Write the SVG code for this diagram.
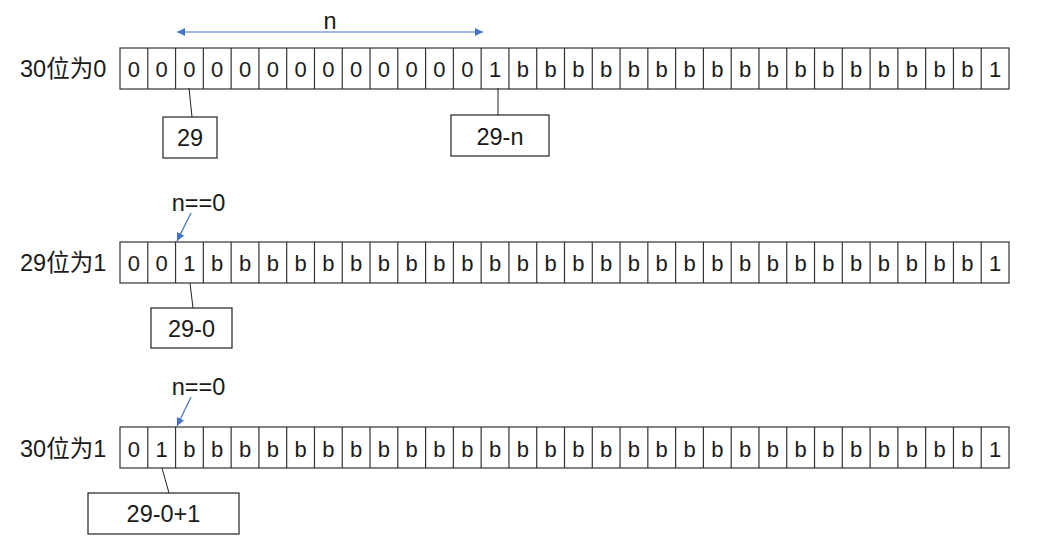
<svg xmlns="http://www.w3.org/2000/svg" xmlns:xlink="http://www.w3.org/1999/xlink" width="1039" height="550" viewBox="0 0 1039 550">
<style>
text{font-family:"Liberation Sans","Noto Sans CJK SC",sans-serif;font-size:22px;fill:#1a1a1a;}
.c{text-anchor:middle;}
.lbl{font-size:23.5px;}
.t{font-size:23.5px;}
.box{fill:#fff;stroke:#222;stroke-width:1.2;}
.grid{fill:none;stroke:#333;stroke-width:1.2;}
.lead{stroke:#222;stroke-width:1;fill:none;}
.blue{stroke:#4472C4;stroke-width:1.2;fill:none;}
</style>
<defs>
<marker id="ah" viewBox="0 0 10 10" refX="10" refY="5" markerWidth="8" markerHeight="8" markerUnits="userSpaceOnUse" orient="auto-start-reverse">
<path d="M0,0 L10,5 L0,10 z" fill="#4472C4"/>
</marker>
<g id="row">
<rect class="grid" x="120" y="0" width="889" height="41" fill="#fff"/>
<path class="grid" d="M147.78,0v41M175.56,0v41M203.34,0v41M231.13,0v41M258.91,0v41M286.69,0v41M314.47,0v41M342.25,0v41M370.03,0v41M397.81,0v41M425.59,0v41M453.38,0v41M481.16,0v41M508.94,0v41M536.72,0v41M564.5,0v41M592.28,0v41M620.06,0v41M647.84,0v41M675.63,0v41M703.41,0v41M731.19,0v41M758.97,0v41M786.75,0v41M814.53,0v41M842.31,0v41M870.09,0v41M897.88,0v41M925.66,0v41M953.44,0v41M981.22,0v41"/>
</g>
</defs>
<rect width="1039" height="550" fill="#fff"/>

<g id="row1">
<use xlink:href="#row" href="#row" y="48"/>
<text x="20" y="77" class="lbl">30位为0</text>
<text class="c" y="77" x="133.89 161.67 189.45 217.23 245.02 272.8 300.58 328.36 356.14 383.92 411.7 439.48 467.27 495.05 522.83 550.61 578.39 606.17 633.95 661.73 689.52 717.3 745.08 772.86 800.64 828.42 856.2 883.98 911.77 939.55 967.33 995.11">00000000000001bbbbbbbbbbbbbbbbb1</text>
</g>

<g id="row2">
<use xlink:href="#row" href="#row" y="242"/>
<text x="20" y="271" class="lbl">29位为1</text>
<text class="c" y="271" x="133.89 161.67 189.45 217.23 245.02 272.8 300.58 328.36 356.14 383.92 411.7 439.48 467.27 495.05 522.83 550.61 578.39 606.17 633.95 661.73 689.52 717.3 745.08 772.86 800.64 828.42 856.2 883.98 911.77 939.55 967.33 995.11">001bbbbbbbbbbbbbbbbbbbbbbbbbbbb1</text>
</g>

<g id="row3">
<use xlink:href="#row" href="#row" y="427"/>
<text x="20" y="457" class="lbl">30位为1</text>
<text class="c" y="457" x="133.89 161.67 189.45 217.23 245.02 272.8 300.58 328.36 356.14 383.92 411.7 439.48 467.27 495.05 522.83 550.61 578.39 606.17 633.95 661.73 689.52 717.3 745.08 772.86 800.64 828.42 856.2 883.98 911.77 939.55 967.33 995.11">01bbbbbbbbbbbbbbbbbbbbbbbbbbbbb1</text>
</g>

<g id="connectors">
<line class="blue" x1="177" y1="32" x2="483" y2="32" marker-start="url(#ah)" marker-end="url(#ah)"/>
<line class="lead" x1="189" y1="88" x2="192" y2="117"/>
<line class="lead" x1="498" y1="88" x2="498" y2="115"/>
<line class="blue" x1="191" y1="213" x2="177" y2="241" marker-end="url(#ah)"/>
<line class="lead" x1="190" y1="283" x2="193" y2="308"/>
<line class="blue" x1="191" y1="397" x2="177" y2="426" marker-end="url(#ah)"/>
<line class="lead" x1="162" y1="468" x2="169" y2="493"/>
</g>

<g id="n-label"><text class="c t" x="330" y="29">n</text></g>
<g id="n0-a"><text class="c t" x="198.5" y="211">n==0</text></g>
<g id="n0-b"><text class="c t" x="198.5" y="395">n==0</text></g>

<g id="box29"><rect class="box" x="163" y="117" width="54" height="41"/><text class="c t" x="190" y="146">29</text></g>
<g id="box29n"><rect class="box" x="451" y="115" width="98" height="41"/><text class="c t" x="500" y="145">29-n</text></g>
<g id="box290"><rect class="box" x="151" y="308" width="81" height="40"/><text class="c t" x="191.5" y="337">29-0</text></g>
<g id="box2901"><rect class="box" x="88" y="493" width="151" height="41"/><text class="c t" x="163.5" y="522">29-0+1</text></g>
</svg>
